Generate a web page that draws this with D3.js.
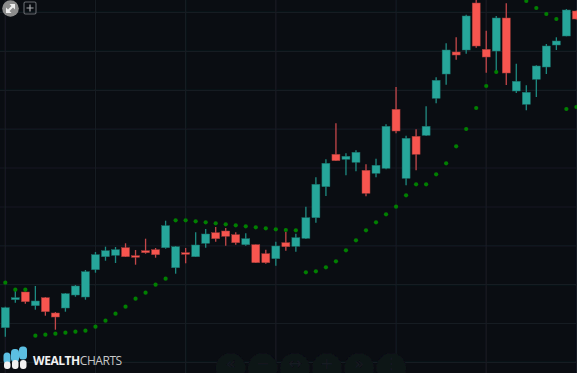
<!DOCTYPE html>
<html><head><meta charset="utf-8">
<style>html,body{margin:0;padding:0;background:#0a0d12;overflow:hidden}svg{display:block}</style>
<script src="https://cdn.jsdelivr.net/npm/d3@7"></script></head><body>
<div id="chart"></div>
<script>
// Prices are on an unlabelled scale.
const opens =[45.3,73.3,81,67.3,75.3,60,65,78,76,103.3,116.3,117.7,125.3,117.3,122.3,123.3,125.3,105.3,120.3,116.3,129.7,140.3,142,138.3,128.3,128.3,119.3,114.3,130.3,126.7,134.7,155.3,186.3,218.7,213.7,210.7,202.7,199.7,204.7,263.7,194.7,236.7,237.7,274.7,299,321,323,370,323.7,322,355,282,268.7,293.7,306,328,337,362];
const closes=[65.3,75.3,71.3,72,61.3,56,79.3,87,101.3,118.3,122.3,123.3,116.3,115.7,120.3,118.3,147.3,126.3,118.7,128,139,134.3,136.7,130.3,134.3,110.3,110.3,127,126.3,135.3,155.3,188.7,209.7,212.3,216.7,220.7,179.7,207.7,246.7,242,234.7,218.7,246.7,292.7,323,318,357,327,316,355,300,291.7,280.7,307,327,332,363,354];
const highs =[66.3,83,81.5,87,76,61,80,88,103,121,126.3,126,129.7,123,134.3,125,152.3,127,125,140.7,144,146,145,140.7,139.7,128.5,123.3,131.3,141.3,139.3,166.3,195.7,213.7,249.7,219.7,222.7,208.7,214.3,248.7,286,237.3,243.7,266.7,295.7,329.7,335.7,358.3,378,342.3,357,369.7,309.3,287.7,307.7,329,335.7,364,362.5];
const lows  =[36.3,70.3,69.3,63.3,57.3,43.3,61.3,76.3,73.3,100.3,112.3,110,116,108.3,119.3,115.3,124.3,99.3,109.7,116,125.3,131.3,127.3,128.3,127.3,110,109.3,107.3,122.3,121.3,134,150.3,177,212,197.7,201.7,176.7,195.7,203.7,239.7,187.7,202.7,237,269.7,288.3,313.3,319.3,325.3,300.3,299.7,288,280,262.7,276,299,323,336.7,353.5];
const sar   =[90.3,83.3,83.3,37.3,38.3,39.3,40.3,41.3,42.3,46.3,52.3,59.3,66.3,74.3,80.3,88.3,94.3,152.7,152.7,151.7,150.7,149.7,148.7,147.7,146.7,145.7,144.7,143.7,143,142.7,100.7,101.7,105.7,111.7,122.7,132.7,142.7,150.7,158.7,166.3,177.7,188.7,188.7,198.7,209.7,226.7,244,265,287,301,null,null,372,365,359,354,264,266];
const gridPrices=[10.6,49.5,88.3,127.2,166,205,243.8,282.7,321.7,360.7];
const gridCandles=[0,9,18,27,39,48,57];
const navButtons=["«","−","↔","+","»","⋮"];

const W=577,H=373;
const svg=d3.select("#chart").append("svg").attr("width",W).attr("height",H);
const x=d3.scaleLinear().domain([0,57]).range([5.3,576.4]);
const y=d3.scaleLinear().domain([0,373]).range([373,0]);
const UP="#26a69a",DOWN="#f7554f",UPD="#1b6f69",DOWND="#9c3a38",GRID="#161b23";
svg.append("rect").attr("width",W).attr("height",H).attr("fill","#0a0d12");
const defs=svg.append("defs");
defs.append("filter").attr("id","soft").append("feGaussianBlur").attr("stdDeviation",0.35);
const root=svg.append("g").attr("filter","url(#soft)");

root.append("g").selectAll("line").data(gridPrices).join("line")
 .attr("x1",0).attr("x2",W).attr("y1",d=>y(d)).attr("y2",d=>y(d)).attr("stroke",GRID).attr("stroke-width",1.2);
root.append("g").selectAll("line").data(gridCandles).join("line")
 .attr("y1",0).attr("y2",H).attr("x1",d=>x(d)).attr("x2",d=>x(d)).attr("stroke",GRID).attr("stroke-width",1.2);

// faint navigation buttons
const nav=root.append("g").selectAll("g").data(navButtons).join("g")
 .attr("transform",(d,i)=>`translate(${230.7+i*32.1},368)`);
nav.append("circle").attr("r",15).attr("fill","#0e1219");
nav.append("text").text(d=>d).attr("text-anchor","middle").attr("y",1).attr("fill","#151a21")
 .attr("font-family","DejaVu Sans").attr("font-size",16);

const idx=d3.range(opens.length);
const col=i=>closes[i]>=opens[i];
root.append("g").selectAll("line").data(idx).join("line")
 .attr("x1",i=>x(i)).attr("x2",i=>x(i)).attr("y1",i=>y(highs[i])).attr("y2",i=>y(lows[i]))
 .attr("stroke",i=>col(i)?"#1f8a81":"#c4474a").attr("stroke-width",1.3);
root.append("g").selectAll("rect").data(idx).join("rect")
 .attr("x",i=>x(i)-4).attr("width",8)
 .attr("y",i=>y(Math.max(opens[i],closes[i])))
 .attr("height",i=>Math.max(1.5,Math.abs(opens[i]-closes[i])))
 .attr("fill",i=>col(i)?UP:DOWN)
 .attr("stroke",i=>col(i)?UPD:DOWND).attr("stroke-width",0.5);
root.append("g").selectAll("circle").data(idx.filter(i=>sar[i]!==null)).join("circle")
 .attr("cx",i=>x(i)).attr("cy",i=>y(sar[i])).attr("r",2.1).attr("fill","#007f00");

// top-left tools
const t=root.append("g");
t.append("circle").attr("cx",10.5).attr("cy",8.5).attr("r",8.3).attr("fill","#8c8c8c");
t.append("path").attr("d","M6 13 L6 7.5 L8 9.5 L11.5 6 L9.5 4 L15 4 L15 9.5 L13 7.5 L9.5 11 L11.5 13 Z").attr("fill","#eee");
t.append("rect").attr("x",24).attr("y",2).attr("width",12).attr("height",12).attr("rx",1.5).attr("fill","none").attr("stroke","#666a6e").attr("stroke-width",1.1);
t.append("path").attr("d","M26.5 8H33.5M30 4.5V11.5").attr("stroke","#a8aaad").attr("stroke-width",1.2);

// logo
const lg=svg.append("g").attr("filter","url(#soft)");
[[3.5,352.5,7,11],[11,349,8,13],[19,346.5,8,13]].forEach(r=>
 lg.append("rect").attr("x",r[0]).attr("y",r[1]).attr("width",r[2]).attr("height",r[3]).attr("rx",3.5).attr("fill","#5bbfe2"));
[[4,361.5,6.5,7.5],[12,360,6.5,9],[20,360,6.5,9]].forEach(r=>
 lg.append("rect").attr("x",r[0]).attr("y",r[1]).attr("width",r[2]).attr("height",r[3]).attr("rx",3).attr("fill","#f2f2f2"));
const tx=svg.append("text").attr("x",33).attr("y",365).attr("font-family","'Open Sans',sans-serif").attr("font-size",12).attr("letter-spacing",-0.45);
tx.append("tspan").text("WEALTH").attr("fill","#f2f2f2").attr("font-weight",700);
tx.append("tspan").text("CHARTS").attr("fill","#c8c8c8").attr("font-weight",400);
</script></body></html>
